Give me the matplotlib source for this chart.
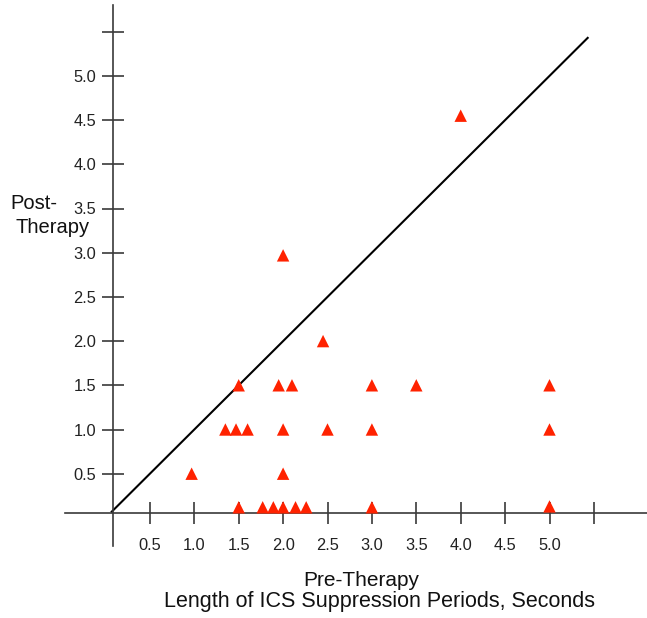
import matplotlib
matplotlib.use("Agg")
import matplotlib.pyplot as plt

plt.rcParams['font.family'] = ['Liberation Sans', 'DejaVu Sans']

# Data (pre-therapy, post-therapy)
pre = [4.0, 2.0, 2.45,
       1.5, 1.95, 2.1, 3.0, 3.5, 5.0,
       1.35, 1.47, 1.6, 2.0, 2.5, 3.0, 5.0,
       0.97, 2.0,
       1.5, 1.77, 1.89, 2.0, 2.14, 2.26, 3.0, 5.0]
post = [4.55, 2.97, 2.0,
        1.5, 1.5, 1.5, 1.5, 1.5, 1.5,
        1.0, 1.0, 1.0, 1.0, 1.0, 1.0, 1.0,
        0.5, 0.5,
        0.12, 0.12, 0.12, 0.12, 0.12, 0.12, 0.12, 0.13]

tick_vals = [0.5, 1.0, 1.5, 2.0, 2.5, 3.0, 3.5, 4.0, 4.5, 5.0, 5.5]
tick_labels = ["0.5", "1.0", "1.5", "2.0", "2.5", "3.0", "3.5", "4.0", "4.5", "5.0", ""]
identity = [0.07, 5.43]

W, H = 647, 618
fig = plt.figure(figsize=(W / 100, H / 100), dpi=100)
ax = fig.add_axes([0, 0, 1, 1])

# pixel mapping
x0p, sx = 105.5, 88.8
y0p, sy = 517.9, 88.4
ax.set_xlim((0 - x0p) / sx, (W - x0p) / sx)
ax.set_ylim((y0p - H) / sy, (y0p - 0) / sy)

axcol = '#3a3a3a'
ax.spines['top'].set_visible(False)
ax.spines['right'].set_visible(False)
ax.spines['left'].set_position(('data', 0.08))
ax.spines['bottom'].set_position(('data', 0.06))
ax.spines['left'].set_bounds((y0p - 546) / sy, (y0p - 5) / sy)
ax.spines['bottom'].set_bounds((65 - x0p) / sx, (W - x0p) / sx)
for s in ('left', 'bottom'):
    ax.spines[s].set_color(axcol)
    ax.spines[s].set_linewidth(1.2)

ax.set_xticks(tick_vals)
ax.set_xticklabels(tick_labels)
ax.set_yticks(tick_vals)
ax.set_yticklabels(tick_labels)
ax.tick_params(axis='both', direction='inout', length=15.5, width=1.2,
               color=axcol, labelsize=11.8, labelcolor='#222222')
ax.tick_params(axis='x', pad=10.5)
ax.tick_params(axis='y', pad=4)

ax.plot(identity, identity, color='black', lw=1.5, zorder=2)
ax.scatter(pre, post, marker='^', s=80, color='#ff2200', edgecolors='none', zorder=3,
           clip_on=False)

fig.text(10 / W, 1 - 209 / H, "Post-", fontsize=14.5, ha='left', va='baseline', color='#111111')
fig.text(15 / W, 1 - 233 / H, "Therapy", fontsize=14.5, ha='left', va='baseline', color='#111111')
fig.text(361 / W, 1 - 586.5 / H, "Pre-Therapy", fontsize=15, ha='center', va='baseline', color='#111111')
fig.text(379 / W, 1 - 606.5 / H, "Length of ICS Suppression Periods, Seconds", fontsize=15.5,
         ha='center', va='baseline', color='#111111')

fig.savefig("out.png", dpi=100)
